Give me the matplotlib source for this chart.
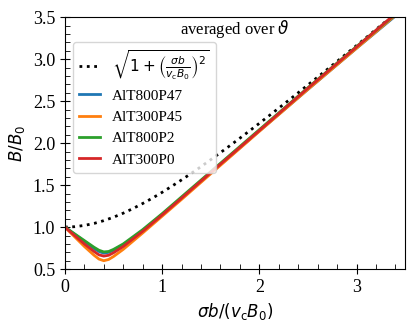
import matplotlib

matplotlib.use("Agg")
import matplotlib.pyplot as plt
from matplotlib.ticker import MultipleLocator

plt.rcParams["font.family"] = "serif"
plt.rcParams["font.serif"] = ["Liberation Serif"]
plt.rcParams["mathtext.fontset"] = "dejavusans"

# reference curve sqrt(1 + x^2), read at 0.1 steps
x_ref = [0.0, 0.1, 0.2, 0.3, 0.4, 0.5, 0.6, 0.7, 0.8, 0.9,
         1.0, 1.1, 1.2, 1.3, 1.4, 1.5, 1.6, 1.7, 1.8, 1.9,
         2.0, 2.1, 2.2, 2.3, 2.4, 2.5, 2.6, 2.7, 2.8, 2.9,
         3.0, 3.1, 3.2, 3.3, 3.4, 3.5]
y_ref = [1.000, 1.005, 1.020, 1.044, 1.077, 1.118, 1.166, 1.221, 1.281, 1.345,
         1.414, 1.487, 1.562, 1.640, 1.720, 1.803, 1.887, 1.972, 2.059, 2.147,
         2.236, 2.326, 2.417, 2.508, 2.600, 2.693, 2.786, 2.879, 2.973, 3.068,
         3.162, 3.257, 3.353, 3.448, 3.544, 3.640]

x_sim = [0.0, 0.1, 0.2, 0.3, 0.35, 0.4, 0.45, 0.5, 0.6, 0.8,
         1.0, 1.2, 1.5, 2.0, 2.5, 3.0, 3.5]
labels = ["AlT800P47", "AlT300P45", "AlT800P2", "AlT300P0"]
y_t800p47 = [1.0, 0.915, 0.83, 0.745, 0.71, 0.69, 0.70, 0.725, 0.79, 0.96,
             1.15, 1.345, 1.645, 2.145, 2.64, 3.13, 3.61]
y_t300p45 = [1.0, 0.885, 0.77, 0.665, 0.62, 0.60, 0.615, 0.65, 0.735, 0.93,
             1.13, 1.33, 1.635, 2.14, 2.64, 3.13, 3.62]
y_t800p2 = [1.0, 0.92, 0.84, 0.76, 0.725, 0.705, 0.71, 0.735, 0.80, 0.97,
            1.16, 1.36, 1.66, 2.16, 2.66, 3.15, 3.63]
y_t300p0 = [1.0, 0.90, 0.80, 0.71, 0.67, 0.655, 0.665, 0.695, 0.77, 0.95,
            1.145, 1.345, 1.65, 2.15, 2.655, 3.145, 3.64]
colors = ["#1f77b4", "#ff7f0e", "#2ca02c", "#d62728"]

fig = plt.figure(figsize=(4.16, 3.29), dpi=100)
ax = fig.add_axes([0.156, 0.182, 0.818, 0.766])

ax.plot(x_ref, y_ref, ":", color="black", lw=2,
        label=r"$\sqrt{1+\left(\frac{\sigma b}{v_\mathrm{c}B_0}\right)^2}$")
for ys, lab, c in zip([y_t800p47, y_t300p45, y_t800p2, y_t300p0], labels, colors):
    ax.plot(x_sim, ys, color=c, lw=2, label=lab)

ax.set_xlim(0, 3.5)
ax.set_ylim(0.5, 3.5)
ax.xaxis.set_major_locator(MultipleLocator(1))
ax.xaxis.set_minor_locator(MultipleLocator(0.2))
ax.yaxis.set_major_locator(MultipleLocator(0.5))
ax.yaxis.set_minor_locator(MultipleLocator(0.1))
ax.tick_params(which="major", direction="inout", length=7, labelsize=13)
ax.tick_params(which="minor", direction="in", length=3.5)

ax.set_xlabel(r"$\sigma b/(v_\mathrm{c}B_0)$", fontsize=12)
ax.set_ylabel(r"$B/B_0$", fontsize=12)
ax.text(0.5, 0.995, r"averaged over $\vartheta$", transform=ax.transAxes,
        ha="center", va="top", fontsize=12)
ax.legend(loc="upper left", bbox_to_anchor=(0.0, 0.93), fontsize=11,
          handlelength=1.4)

fig.savefig("out.png", dpi=100)
